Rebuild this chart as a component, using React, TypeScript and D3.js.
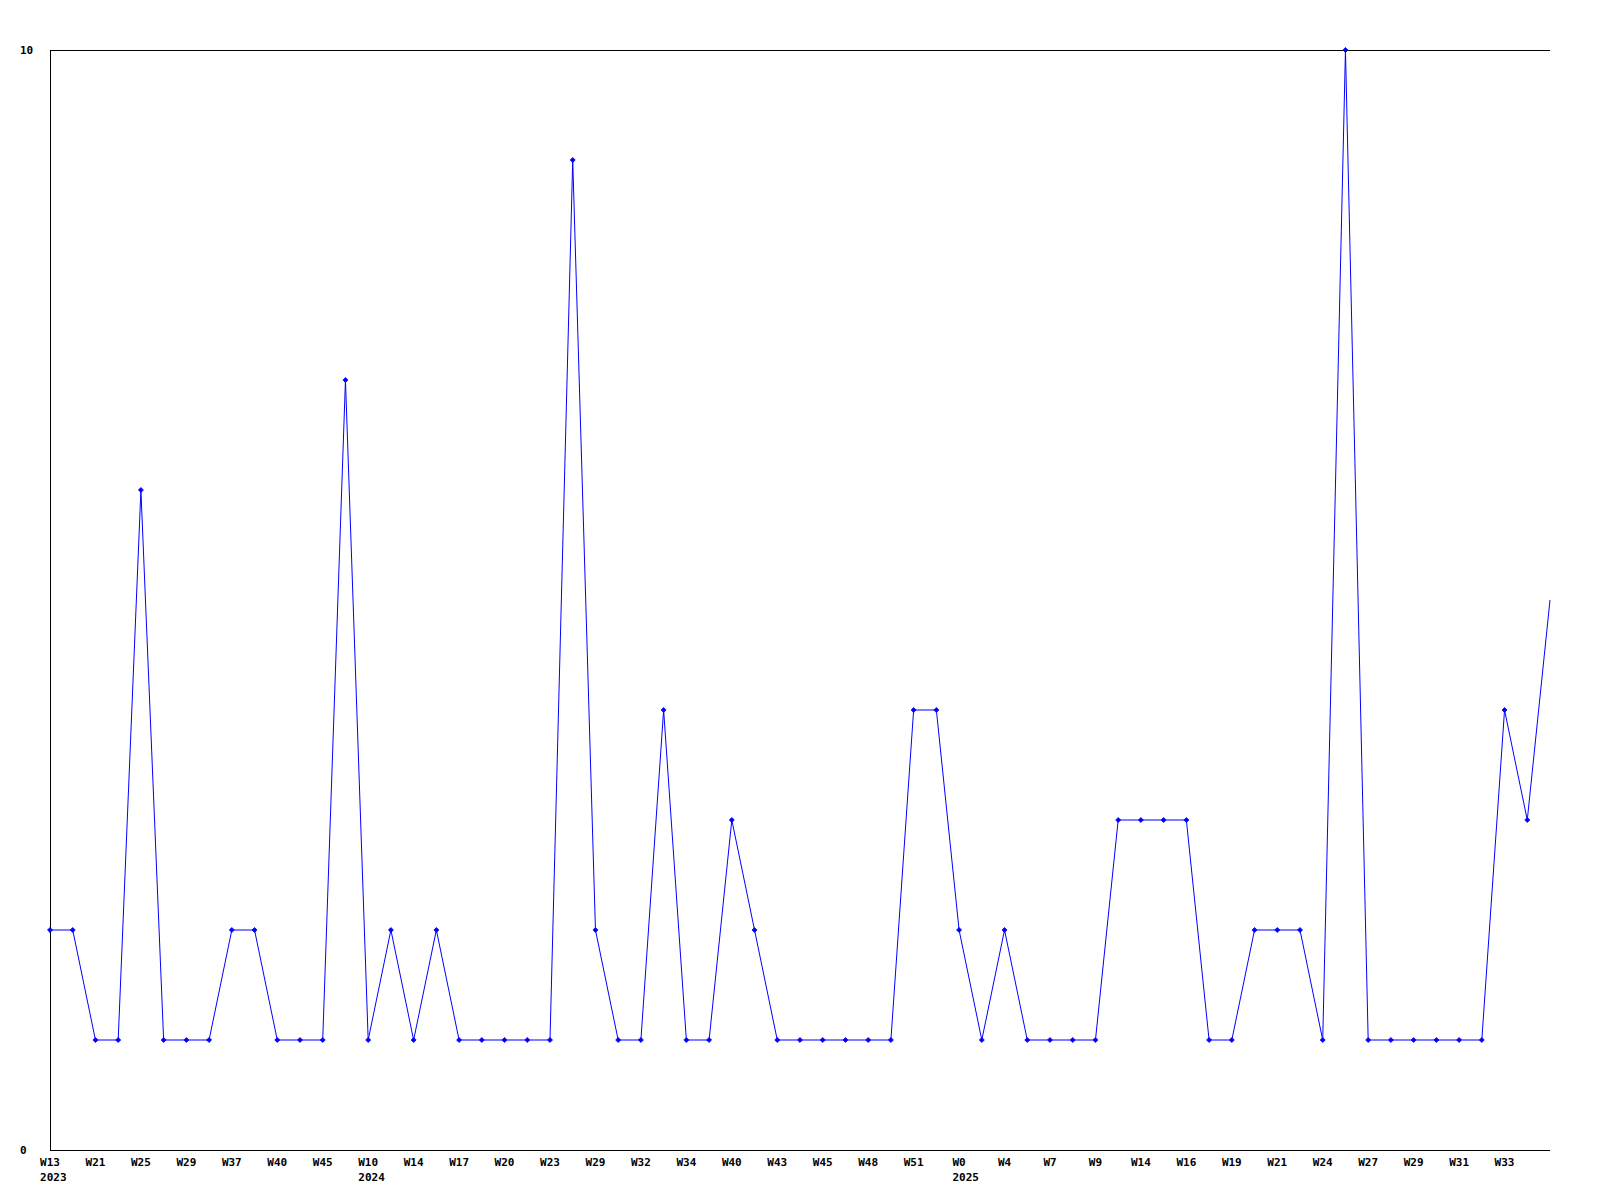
import React, { useEffect, useRef } from 'react'
import * as d3 from 'd3'

// weekly counts, one per point
const counts = [
  2, 2, 1, 1, 6, 1, 1, 1, 2, 2,
  1, 1, 1, 7, 1, 2, 1, 2, 1, 1,
  1, 1, 1, 9, 2, 1, 1, 4, 1, 1,
  3, 2, 1, 1, 1, 1, 1, 1, 4, 4,
  2, 1, 2, 1, 1, 1, 1, 3, 3, 3,
  3, 1, 1, 2, 2, 2, 1, 10, 1, 1,
  1, 1, 1, 1, 4, 3, 5,
]

// labels shown under every second point
const weekTicks = [
  'W13', 'W21', 'W25', 'W29', 'W37', 'W40', 'W45', 'W10', 'W14', 'W17', 'W20',
  'W23', 'W29', 'W32', 'W34', 'W40', 'W43', 'W45', 'W48', 'W51', 'W0', 'W4',
  'W7', 'W9', 'W14', 'W16', 'W19', 'W21', 'W24', 'W27', 'W29', 'W31', 'W33',
]

const yearIndex = [0, 14, 40]
const yearLabels = ['2023', '2024', '2025']

const yTicks = [0, 10]

export default function App() {
  const svgRef = useRef<SVGSVGElement>(null)

  useEffect(() => {
    if (!svgRef.current) return
    const svg = d3.select(svgRef.current)
    svg.selectAll('*').remove()

    const W = 1600
    const H = 1200
    const left = 50, right = 1550, top = 50, bottom = 1150
    const font = '"DejaVu Sans Mono", monospace'
    const charW = 6.6

    svg.append('rect').attr('width', W).attr('height', H).attr('fill', '#fff')

    const x = d3.scaleLinear().domain([0, counts.length - 1]).range([left, right])
    const y = d3.scaleLinear().domain([0, 10]).range([bottom, top])

    // frame: left, bottom, top
    const frame = svg.append('g')
      .attr('stroke', '#000')
      .attr('stroke-width', 1)
      .attr('shape-rendering', 'crispEdges')
    frame.append('line').attr('x1', left + 0.5).attr('x2', left + 0.5).attr('y1', top).attr('y2', bottom)
    frame.append('line').attr('x1', left).attr('x2', right).attr('y1', bottom + 0.5).attr('y2', bottom + 0.5)
    frame.append('line').attr('x1', left).attr('x2', right).attr('y1', top + 0.5).attr('y2', top + 0.5)

    // y labels
    svg.append('g').selectAll('text')
      .data(yTicks)
      .join('text')
      .attr('x', 20)
      .attr('y', d => y(d) + 4)
      .attr('font-family', font)
      .attr('font-weight', 'bold')
      .attr('font-size', 11)
      .attr('fill', '#000')
      .text(d => String(d))

    // x labels
    const xl = svg.append('g')
      .attr('font-family', font)
      .attr('font-weight', 'bold')
      .attr('font-size', 11)
      .attr('fill', '#000')
    xl.selectAll('text.wk')
      .data(weekTicks)
      .join('text')
      .attr('class', 'wk')
      .attr('x', (_, i) => x(i * 2))
      .attr('y', 1166)
      .attr('text-anchor', 'middle')
      .text(d => d)
    xl.selectAll('text.yr')
      .data(yearLabels)
      .join('text')
      .attr('class', 'yr')
      .attr('x', (_, i) => {
        const idx = yearIndex[i]
        const wk = weekTicks[idx / 2]
        return x(idx) - (wk.length * charW) / 2
      })
      .attr('y', 1181)
      .text(d => d)

    // series line
    const line = d3.line<number>()
      .x((_, i) => x(i))
      .y(d => y(d))
    svg.append('path')
      .datum(counts)
      .attr('d', line)
      .attr('fill', 'none')
      .attr('stroke', '#0000ff')
      .attr('stroke-width', 1)

    // markers (last point sits on the edge, not marked)
    const marker = d3.symbol().type(d3.symbolDiamond2).size(16)
    svg.append('g').selectAll('path')
      .data(counts.slice(0, -1))
      .join('path')
      .attr('transform', (d, i) => `translate(${x(i)},${y(d)})`)
      .attr('d', marker)
      .attr('fill', '#0000ff')
      .attr('stroke', '#0000ff')
      .attr('stroke-width', 0.8)
  }, [])

  return (
    <div style={{ position: 'absolute', left: 0, top: 0 }}>
      <svg ref={svgRef} width={1600} height={1200} style={{ display: 'block' }} />
    </div>
  )
}
